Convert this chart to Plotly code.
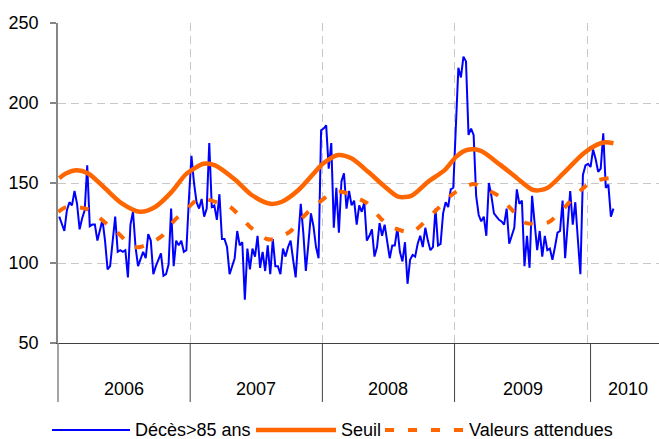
import plotly.graph_objects as go

# ---------------- data ----------------
deces_2006 = [129, 125, 120, 133, 138, 136, 145, 137, 121, 128, 133, 161,
              123, 124, 124, 114, 120, 127, 114, 96, 98, 113,
              129, 107, 108, 107, 108, 91, 124, 132, 110, 98,
              103, 107, 103, 118, 114, 93, 98, 102, 106, 92,
              93, 99, 134, 98, 114, 111, 114, 107, 108, 140]
deces_2007 = [167, 150, 138, 134, 140, 129, 134, 175, 135, 136,
              127, 143, 115, 115, 110, 93, 98, 103, 120, 111,
              113, 77, 109, 96, 109, 104, 117, 97, 107, 95,
              111, 93, 115, 98, 98, 93, 109, 104, 110, 114,
              102, 91, 115, 137, 119, 95, 112, 131, 123, 110,
              103, 183]
deces_2008 = [184, 186, 159, 175, 122, 147, 119, 151, 156, 134, 145,
              136, 139, 124, 136, 132, 138, 114, 117, 121, 104,
              110, 125, 117, 124, 112, 103, 111, 111, 122, 107,
              101, 113, 87, 102, 105, 104, 112, 117, 110, 122,
              114, 108, 110, 134, 111, 112, 131, 138, 135, 146, 147]
deces_2009 = [185, 222, 216, 229, 226, 180, 184, 180, 142, 130,
              126, 129, 117, 150, 142, 131, 129, 127, 126, 124,
              134, 112, 117, 122, 146, 137, 139, 98, 117, 97,
              142, 126, 108, 120, 104, 117, 108, 109, 102, 110,
              119, 120, 139, 103, 124, 145, 124, 138, 115, 93,
              155, 161, 162]
deces_2010 = [160, 171, 165, 157, 159, 181, 147, 149, 129, 134]

seuil_weeks = [0, 2.6, 6.9, 11.4, 18, 24.6, 31.8, 37.7, 44.3, 49.5, 52.1, 56.7,
               61.3, 69.2, 75.7, 83, 87.6, 94.1, 101.8, 103.9, 109.7, 114.9,
               121.5, 128.1, 133.3, 138.5, 145.1, 151.6, 156.2, 160.3, 165.6,
               173.5, 180.1, 186.5, 191.8, 198.3, 206.2, 211.4, 214.8, 218]
seuil_values = [153, 156, 158, 156, 146.7, 137.3, 132, 135, 144.6, 155, 158, 162,
                161, 152, 142.5, 137, 138.3, 145.6, 159, 162.3, 167.5, 165.4,
                157, 147.7, 141.5, 142, 150.8, 158, 166.5, 170.6, 170.2,
                161.3, 153, 145.6, 146.7, 156, 168.5, 173.8, 175.4, 174.8]

attendu_weeks = [-0.4, 2.9, 11.3, 19.2, 22.6, 28.5, 31.8, 37.7, 40.5, 45.5, 48.4,
                 54.7, 57.6, 63.6, 67.2, 72.4, 75, 81.6, 84.6, 90.8, 93, 98.6,
                 100.6, 107, 111, 117.5, 120.8, 127, 130, 136.1, 139.2, 145.1,
                 148.3, 153.6, 156.2, 162.9, 165.8, 172.7, 175.7, 180.6, 183.6,
                 190.4, 192.8, 199, 201.2, 206.8, 209.9, 216.7, 218.6]
attendu_values = [132, 135, 133.5, 123.7, 119.6, 110.6, 110, 114, 117, 127, 131,
                  140, 140, 137, 135, 127, 122.7, 115, 115, 119.6, 123.7, 133,
                  135.6, 143.5, 144.6, 140.4, 137.7, 127, 123, 119.6, 119.6, 128,
                  133, 141.5, 144.6, 149.4, 147.7, 142, 137.3, 129, 125,
                  124.8, 125.8, 135, 139, 147.7, 150.8, 153, 152.5]

years = ["2006", "2007", "2008", "2009", "2010"]
year_bounds = [0, 52, 104, 156, 209.5, 239.3]   # weeks (category spans)
grid_weeks = [52, 104, 156, 208.2]
y_ticks = [50, 100, 150, 200, 250]

series_names = ["Décès>85 ans", "Seuil", "Valeurs attendues"]

# ---------------- figure ----------------
deces = deces_2006 + deces_2007 + deces_2008 + deces_2009 + deces_2010
weeks = [i + 0.5 for i in range(len(deces))]
seuil_x = [w + 0.5 for w in seuil_weeks]
attendu_x = [w + 0.5 for w in attendu_weeks]

BLUE = "#0000FF"
ORANGE = "#FF6600"
FONT = "Liberation Sans, Arial, sans-serif"

fig = go.Figure()
fig.add_trace(go.Scatter(x=weeks, y=deces, mode="lines", name=series_names[0],
                         line=dict(color=BLUE, width=2), showlegend=False))
fig.add_trace(go.Scatter(x=seuil_x, y=seuil_values, mode="lines", name=series_names[1],
                         line=dict(color=ORANGE, width=4.5, shape="spline", smoothing=0.8),
                         showlegend=False))
fig.add_trace(go.Scatter(x=attendu_x, y=attendu_values, mode="lines", name=series_names[2],
                         line=dict(color=ORANGE, width=4, shape="spline", smoothing=0.8,
                                   dash="9px,14px"),
                         showlegend=False))

W, H = 659, 439
ML, MR, MT, MB = 58, 0, 23, 96
PW, PH = W - ML - MR, H - MT - MB
px_per_week = 2.542
x_max = PW / px_per_week


def py(pix):
    """pixel row -> paper y"""
    return (H - MB - pix) / PH


def pxp(pix):
    """pixel column -> paper x"""
    return (pix - ML) / PW


shapes = []
annotations = []

# y-axis extension below the plot and year separators
shapes.append(dict(type="line", xref="paper", yref="paper", x0=0, x1=0,
                   y0=py(402), y1=0, line=dict(color="#868686", width=1.5)))
for b in year_bounds[1:-1]:
    shapes.append(dict(type="line", xref="x", yref="paper", x0=b, x1=b,
                       y0=py(402), y1=0, line=dict(color="#404040", width=1)))

# year labels
for k, yr in enumerate(years):
    mid = (year_bounds[k] + year_bounds[k + 1]) / 2
    annotations.append(dict(x=mid, xref="x", y=py(389), yref="paper", text=yr,
                            showarrow=False, xanchor="center", yanchor="middle",
                            font=dict(family=FONT, size=18, color="#000000")))

# manual legend
ly = py(430)
shapes.append(dict(type="line", xref="paper", yref="paper", x0=pxp(52), x1=pxp(130),
                   y0=ly, y1=ly, line=dict(color=BLUE, width=2)))
shapes.append(dict(type="line", xref="paper", yref="paper", x0=pxp(256), x1=pxp(336),
                   y0=ly, y1=ly, line=dict(color=ORANGE, width=4.5)))
shapes.append(dict(type="line", xref="paper", yref="paper", x0=pxp(385), x1=pxp(463),
                   y0=ly, y1=ly, line=dict(color=ORANGE, width=4, dash="9px,14px")))
for name, xpix in zip(series_names, [133, 339, 467]):
    annotations.append(dict(x=pxp(xpix), xref="paper", y=ly, yref="paper", text=name,
                            showarrow=False, xanchor="left", yanchor="middle",
                            font=dict(family=FONT, size=18, color="#000000")))

fig.update_layout(
    width=W, height=H,
    margin=dict(l=ML, r=MR, t=MT, b=MB, pad=0),
    paper_bgcolor="white", plot_bgcolor="white",
    font=dict(family=FONT, size=18, color="#000000"),
    showlegend=False,
    shapes=shapes,
    annotations=annotations,
    xaxis=dict(range=[0, x_max], tickvals=grid_weeks, showticklabels=False, ticks="",
               showgrid=True, gridcolor="#c8c8c8", gridwidth=1, griddash="8px,5px",
               showline=True, linecolor="#404040", linewidth=1, zeroline=False,
               fixedrange=True),
    yaxis=dict(range=[50, 250], tickvals=y_ticks, ticks="outside", ticklen=6,
               tickcolor="#868686", tickwidth=1.5,
               showgrid=True, gridcolor="#c8c8c8", gridwidth=1, griddash="8px,5px",
               showline=True, linecolor="#868686", linewidth=1.5, zeroline=False,
               tickfont=dict(family=FONT, size=18, color="#000000"),
               ticklabelstandoff=8, fixedrange=True),
)

fig.write_html("out.html", config={"displayModeBar": False},
               post_script="document.body.style.margin='0';document.body.style.overflow='hidden';")
